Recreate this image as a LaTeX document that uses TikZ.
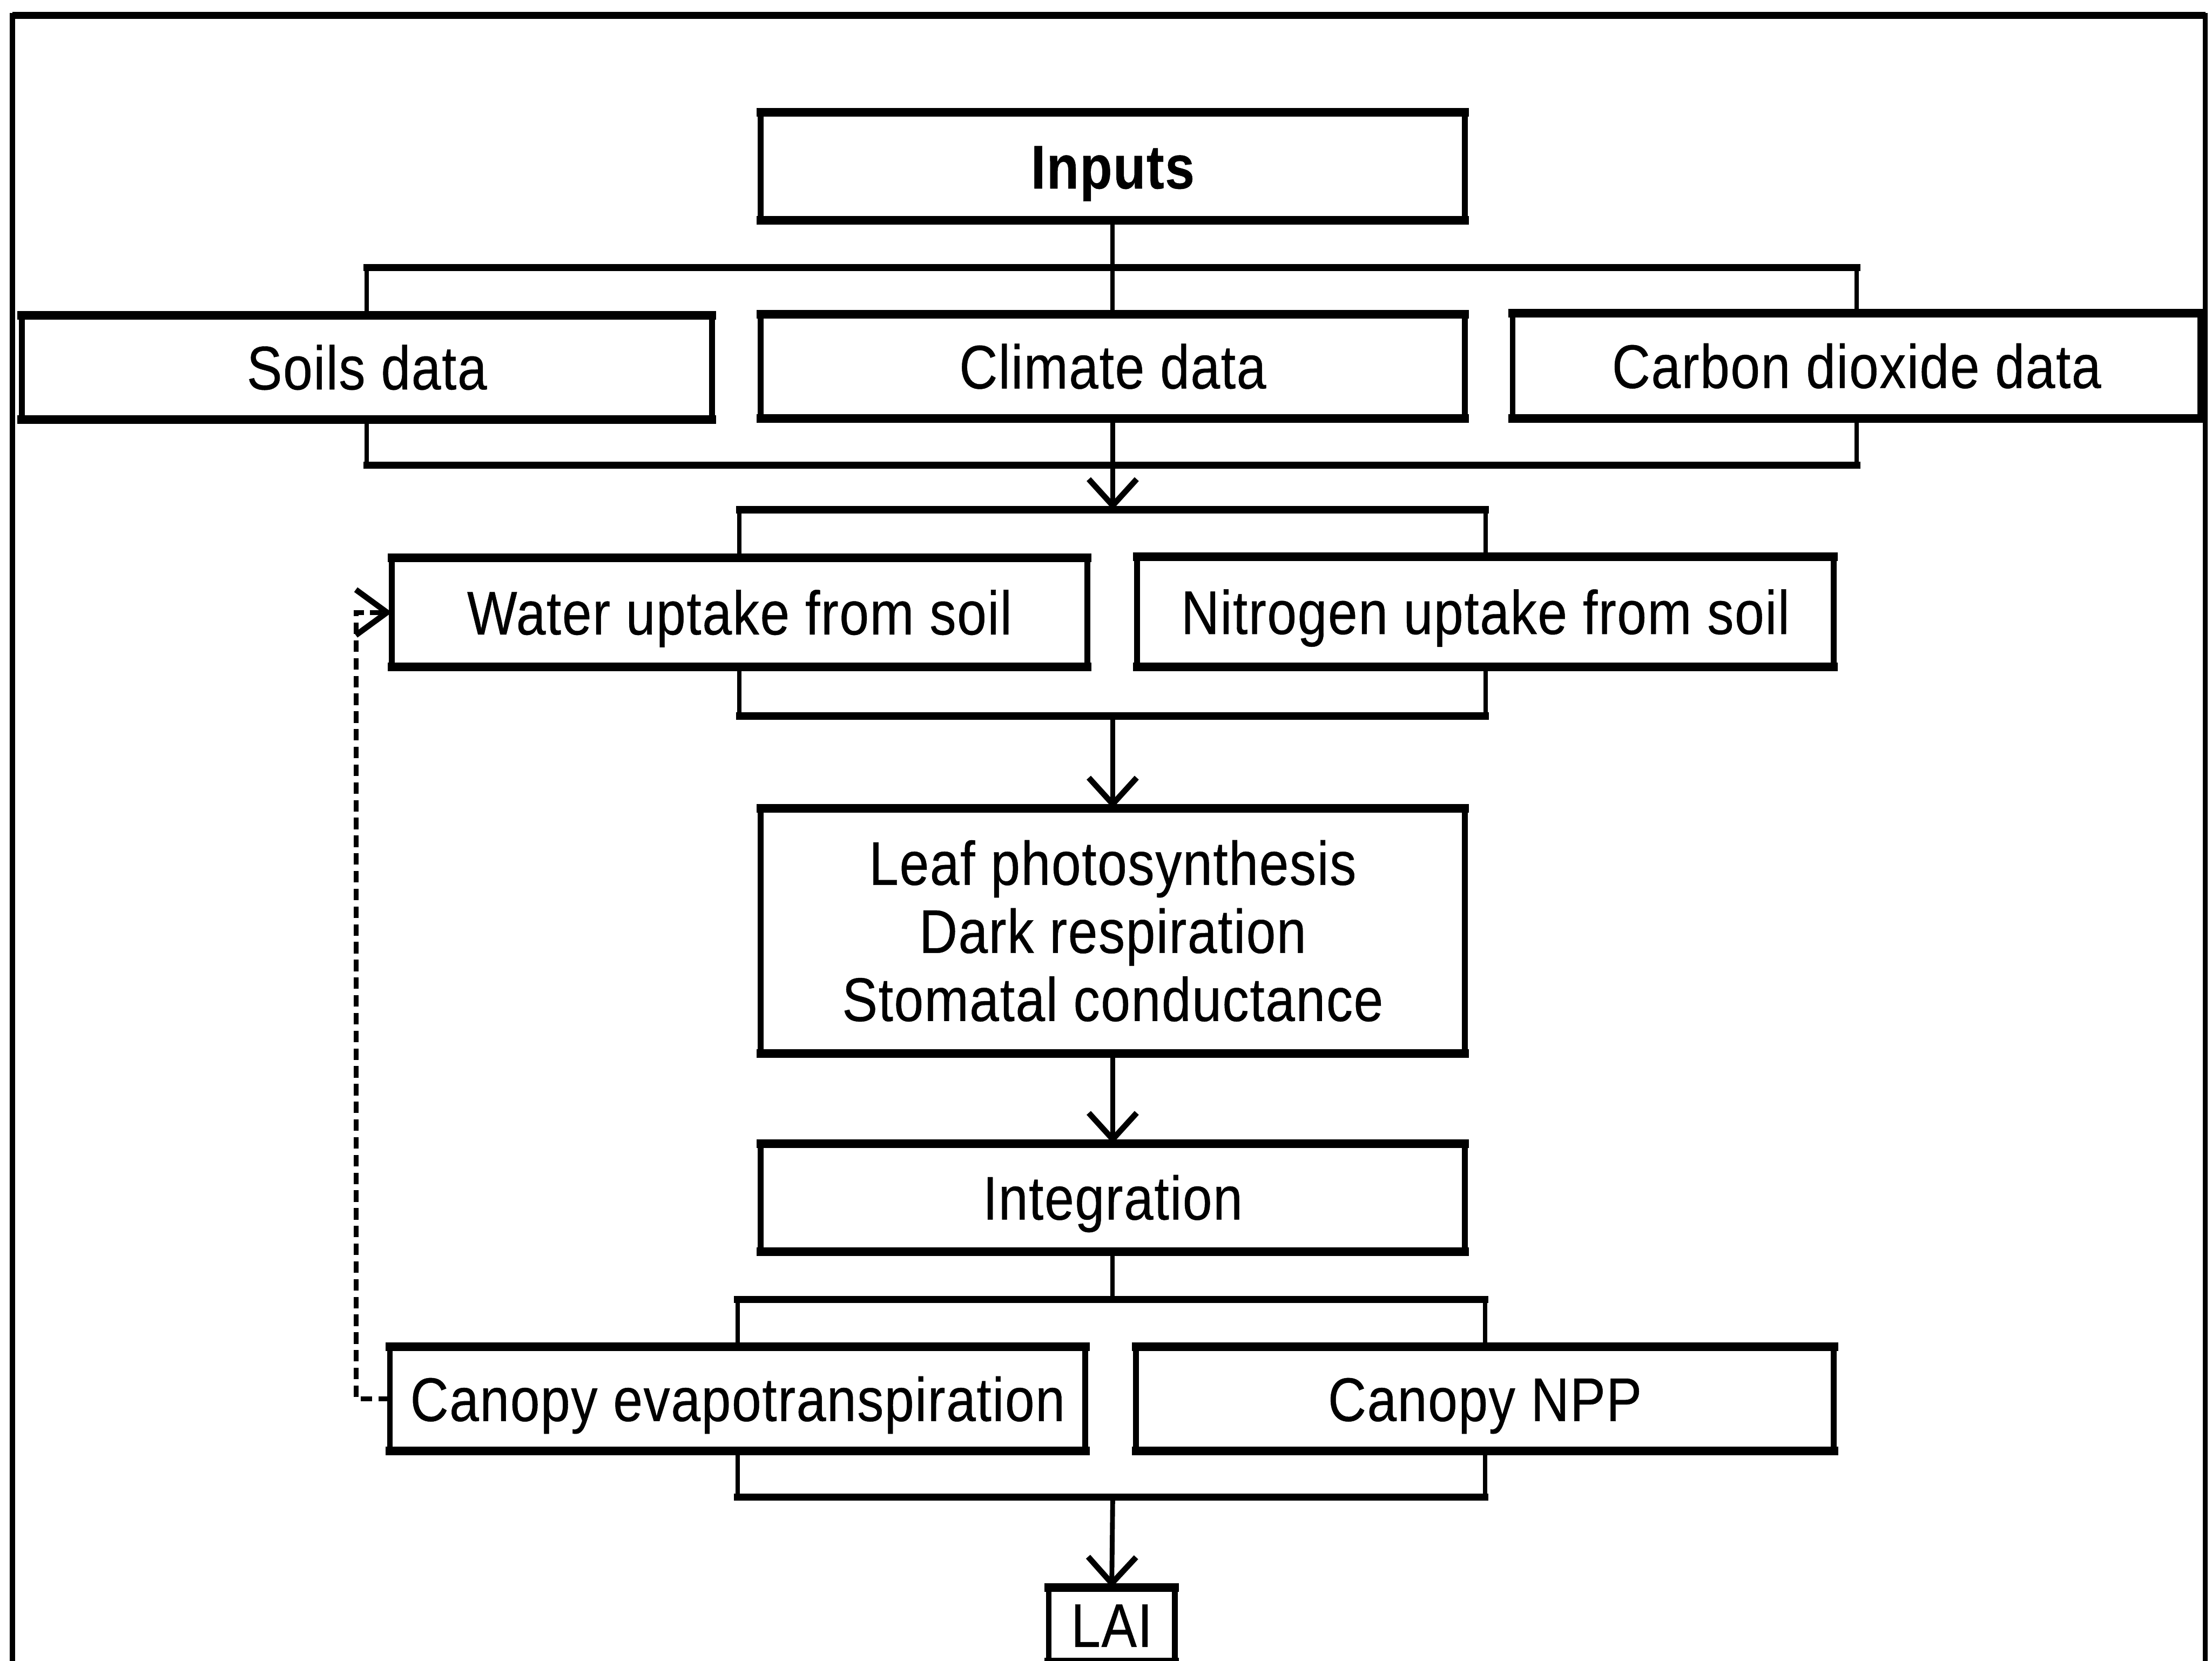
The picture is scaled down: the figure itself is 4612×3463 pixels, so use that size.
\documentclass[tikz,border=0pt]{standalone}
\usepackage{fontspec}
\setmainfont{Liberation Sans}[FakeStretch=0.86, LetterSpace=1.5, FakeBold=0.4]
\usetikzlibrary{arrows.meta}
\newcommand\boxfont{\fontsize{12.85pt}{14.2pt}\selectfont}
\tikzset{
  hedge/.style={draw, line width=1.8pt, line cap=rect, -},
  boxbase/.style={draw, line width=1.2pt, inner sep=0pt, outer sep=0pt,
    font=\boxfont, minimum width=#1,
    append after command={
      (\tikzlastnode.north west) edge[hedge] (\tikzlastnode.north east)
      (\tikzlastnode.south west) edge[hedge] (\tikzlastnode.south east)}},
  boxbase/.default=146.8pt,
  stepbox/.style={boxbase=#1, text height=9.2pt, text depth=0pt},
  stepbox/.default=146.8pt,
  bar/.style={line width=1.5pt, line cap=rect},
  stem/.style={line width=0.9pt},
  arr/.style={line width=1pt, -{Straight Barb[length=5.5pt, width=10pt, line width=1.2pt]}},
  feedback/.style={line width=1pt, dash pattern=on 2.4pt off 1.3pt,
    -{Straight Barb[length=6.5pt, width=9.5pt, line width=1.2pt]}},
}
\begin{document}
\begin{tikzpicture}[x=0.1pt, y=-0.1pt]
\useasboundingbox (0,0) rectangle (4612,3463);
\clip (0,0) rectangle (4612,3463);
\fill[white] (0,0) rectangle (4612,3463);

% outer frame (open at the bottom edge of the page)
\draw[line width=1.1pt] (26,3600) -- (26,32) -- (4598,32) -- (4598,3600);
\draw[line width=1.5pt] (26,32) -- (4598,32);

% boxes
\node[stepbox, minimum height=22.5pt, font=\boxfont\bfseries] (inputs) at (2320,347) {Inputs};
\node[stepbox=143.9pt, minimum height=21.8pt] (soils) at (765,766) {Soils data};
\node[stepbox, minimum height=21.8pt] (climate) at (2320,764) {Climate data};
\node[stepbox=143.4pt, minimum height=22pt] (carbon) at (3871,763) {Carbon dioxide data};

\node[stepbox=145pt, minimum height=22.8pt] (water) at (1542,1277) {Water uptake from soil};
\node[stepbox=145.2pt, minimum height=23pt] (nitrogen) at (3097,1276) {Nitrogen uptake from soil};

\node[boxbase, minimum height=51.1pt, align=center] (leaf) at (2320,1941)
  {Leaf photosynthesis\\Dark respiration\\Stomatal conductance};
\node[stepbox, minimum height=22.5pt] (integ) at (2320,2497) {Integration};

\node[stepbox=145pt, minimum height=21.8pt] (evap) at (1538,2917) {Canopy evapotranspiration};
\node[stepbox=145.5pt, minimum height=21.8pt] (npp) at (3096,2917) {Canopy NPP};

\node[stepbox=26.3pt, minimum height=15.5pt] (lai) at (2318,3388) {LAI};

% bar levels of the brackets
\coordinate (b1t) at (2320,558);
\coordinate (b1b) at (2320,970);
\coordinate (b2t) at (2320,1063);
\coordinate (b2b) at (2320,1493);
\coordinate (b3t) at (2320,2710);
\coordinate (b3b) at (2320,3122);
\coordinate (fb)  at (743,1277);

% inputs split into the three data sets
\draw[stem] (inputs.south) -- (climate.north);
\draw[bar] (soils.north |- b1t) -- (carbon.north |- b1t);
\draw[stem] (soils.north) -- (soils.north |- b1t);
\draw[stem] (carbon.north) -- (carbon.north |- b1t);
\draw[bar] (soils.south |- b1b) -- (carbon.south |- b1b);
\draw[stem] (soils.south) -- (soils.south |- b1b);
\draw[stem] (carbon.south) -- (carbon.south |- b1b);
\draw[arr] (climate.south) -- (b2t);

% uptake bracket
\draw[bar] (water.north |- b2t) -- (nitrogen.north |- b2t);
\draw[stem] (water.north) -- (water.north |- b2t);
\draw[stem] (nitrogen.north) -- (nitrogen.north |- b2t);
\draw[bar] (water.south |- b2b) -- (nitrogen.south |- b2b);
\draw[stem] (water.south) -- (water.south |- b2b);
\draw[stem] (nitrogen.south) -- (nitrogen.south |- b2b);
\draw[arr] (b2b) -- (leaf.north);

% leaf processes to integration
\draw[arr] (leaf.south) -- (integ.north);
\draw[stem] (integ.south) -- (b3t);

% canopy bracket
\draw[bar] (evap.north |- b3t) -- (npp.north |- b3t);
\draw[stem] (evap.north) -- (evap.north |- b3t);
\draw[stem] (npp.north) -- (npp.north |- b3t);
\draw[bar] (evap.south |- b3b) -- (npp.south |- b3b);
\draw[stem] (evap.south) -- (evap.south |- b3b);
\draw[stem] (npp.south) -- (npp.south |- b3b);
\draw[arr] (b3b) -- (lai.north);

% evapotranspiration feeds back to water uptake
\draw[feedback] (evap.west) -| (fb) -- (water.west);
\end{tikzpicture}
\end{document}
